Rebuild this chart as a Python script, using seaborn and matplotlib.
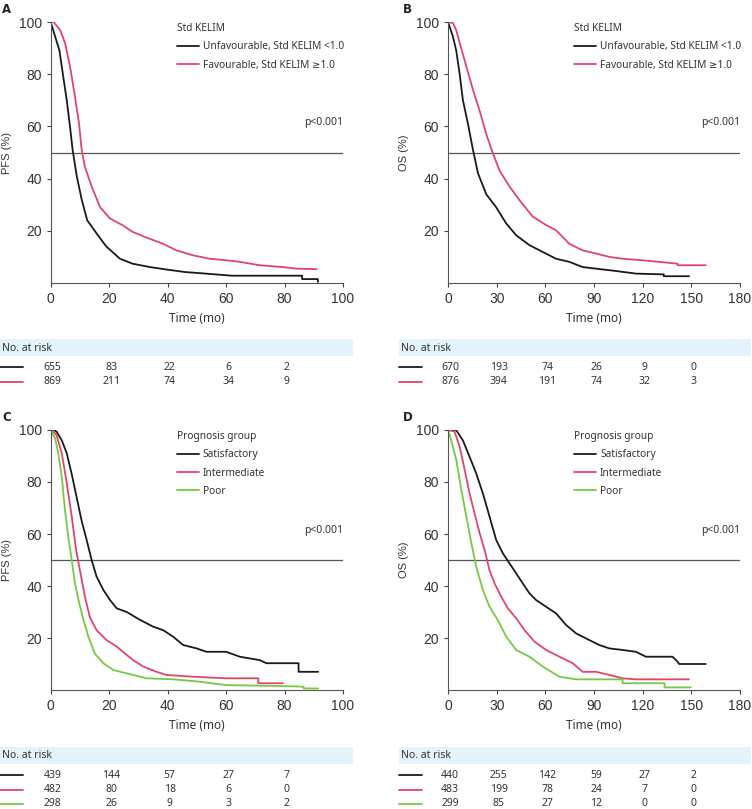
import numpy as np
import pandas as pd
import matplotlib
matplotlib.use("Agg")
import matplotlib.pyplot as plt
from matplotlib.patches import Rectangle
from matplotlib.transforms import blended_transform_factory
import seaborn as sns

# --- KM curves ---
# Panel A: PFS by Std KELIM
a_unfav_t = [0, 1.5, 3, 4.3, 5.5, 6.6, 7.5, 8.9, 10.6, 12.5, 15.7, 19, 23.7, 28, 34, 40, 46, 53, 62, 86, 86, 91.4, 91.4]
a_unfav_s = [100, 94.5, 89, 79, 70, 60, 51, 41, 32, 24, 19, 14, 9.3, 7.4, 6.1, 5.1, 4.2, 3.6, 2.8, 2.8, 1.5, 1.5, 0.4]
a_fav_t = [0, 1, 3.2, 4.9, 6.6, 8.3, 9.7, 10.6, 11.7, 14, 16.9, 20.3, 24.8, 28, 32.8, 38.5, 43, 48.7, 54.4, 60, 64.7, 71.5, 79.5, 84, 91]
a_fav_s = [100, 100, 97, 92, 83, 71.5, 61, 51, 44.5, 37, 29, 24.7, 22, 19.6, 17.4, 15, 12.5, 10.6, 9.3, 8.7, 8.1, 6.8, 6.1, 5.5, 5.3]

# Panel B: OS by Std KELIM
b_unfav_t = [0, 3, 5.1, 7.2, 9.2, 12.3, 15.4, 18.5, 23.6, 29.7, 35.9, 42, 50.2, 58.4, 66.6, 74.8, 83, 91.2, 103.5, 115.8, 133, 133, 148.6]
b_unfav_s = [100, 94.5, 89, 80, 70, 61, 51, 42, 34, 29, 22.8, 18.3, 14.5, 11.9, 9.3, 8.1, 6.1, 5.5, 4.6, 3.6, 3.3, 2.6, 2.6]
b_fav_t = [0, 3, 5, 7.2, 11.3, 15.4, 19.5, 23.6, 27.7, 31.8, 37.9, 44, 52.3, 60.5, 66.6, 74.8, 83, 91.2, 99.4, 107.6, 120, 130, 141.5, 141.5, 158.9]
b_fav_s = [100, 99.6, 97, 92, 83, 74, 66, 57, 49.7, 43, 37, 31.8, 25.4, 22.2, 20.2, 15, 12.5, 11.3, 10, 9.3, 8.7, 8.1, 7.4, 6.8, 6.8]

# Panel C: PFS by prognosis group
c_sat_t = [0, 1, 2, 3.8, 5.5, 7.2, 8.9, 10.6, 12.3, 14, 15.7, 18, 20.3, 22.6, 26, 30.5, 35, 38.5, 41.9, 45.3, 49.9, 53.3, 60, 64.7, 71.5, 73.8, 84.8, 84.8, 91.5]
c_sat_s = [100, 100, 99.4, 96, 91, 83, 74, 65, 57.7, 50, 43.6, 38.5, 34.6, 31.4, 30, 27, 24.4, 23, 20.5, 17.3, 16, 14.7, 14.7, 12.8, 11.5, 10.3, 10.3, 7, 7]
c_int_t = [0, 0.5, 2, 3.8, 5.5, 7.2, 8.7, 10, 11.7, 13.4, 15.7, 19.1, 22.6, 26, 28.2, 31.7, 36.2, 39.6, 48.7, 60, 71, 71, 79.5]
c_int_s = [100, 100, 98, 91, 79.5, 66.7, 53.8, 46, 36, 28, 23, 19.2, 16.7, 13.5, 11.5, 9, 7, 5.8, 5.1, 4.5, 4.5, 2.6, 2.6]
c_poor_t = [0, 1.5, 2.6, 3.8, 4.9, 6, 7.2, 8.3, 9.5, 11.2, 12.9, 15.1, 18, 21.4, 26, 32.8, 41.9, 51, 60, 79.5, 86.5, 86.5, 91.5]
c_poor_s = [100, 96.8, 91, 82, 69, 59, 50, 41, 34.6, 27, 20.5, 14, 10.3, 7.7, 6.4, 4.5, 4.1, 3.2, 1.9, 1.5, 1.3, 0.6, 0.6]

# Panel D: OS by prognosis group
d_sat_t = [0, 5, 9.2, 13.3, 17.4, 21.5, 25.6, 29.7, 33.8, 37.9, 42, 46.1, 50.2, 54.3, 60.5, 66.6, 72.8, 78.9, 87.1, 93.3, 99.4, 107.6, 115.8, 122, 138.4, 141.5, 142.5, 158.9]
d_sat_s = [100, 100, 96, 89.7, 83.3, 75.6, 66.7, 57.7, 52.6, 48.7, 44.9, 41, 37.2, 34.6, 32, 29.5, 25, 21.8, 19.2, 17.3, 16, 15.4, 14.7, 12.8, 12.8, 10.9, 10, 10]
d_int_t = [0, 4, 7.2, 10.3, 13.3, 16.4, 19.5, 22.6, 25.6, 28.7, 32.8, 36.9, 42, 47.2, 53.3, 60.5, 68.7, 76.9, 83, 91.2, 99.4, 107.6, 115.8, 148.6]
d_int_s = [100, 99.4, 93.6, 84.6, 75.6, 67.9, 60.3, 53.8, 46, 41, 35.9, 31.4, 27.6, 23, 18.6, 15.4, 12.8, 10.3, 7, 7, 5.8, 4.5, 4.1, 4.1]
d_poor_t = [0, 2, 5.1, 8.2, 11.3, 14.4, 17.4, 21.5, 25.6, 30.7, 35.9, 42, 50.2, 58.4, 68.7, 78.9, 107.6, 107.6, 133.5, 133.5, 149.7]
d_poor_s = [100, 96, 88.5, 77, 66.7, 56.4, 47.4, 38.5, 32, 26.9, 20.5, 15.4, 12.8, 9, 5.1, 4.1, 4.1, 2.6, 2.6, 1, 1]

# --- Numbers at risk ---
pfs_ticks = [0, 20, 40, 60, 80, 100]
os_ticks = [0, 30, 60, 90, 120, 150, 180]
a_risk_times = [0, 20, 40, 60, 80]
a_risk = [[655, 83, 22, 6, 2], [869, 211, 74, 34, 9]]
b_risk_times = [0, 30, 60, 90, 120, 150]
b_risk = [[670, 193, 74, 26, 9, 0], [876, 394, 191, 74, 32, 3]]
c_risk = [[439, 144, 57, 27, 7], [482, 80, 18, 6, 0], [298, 26, 9, 3, 2]]
d_risk = [[440, 255, 142, 59, 27, 2], [483, 199, 78, 24, 7, 0], [299, 85, 27, 12, 0, 0]]

kelim_labels = ["Unfavourable, Std KELIM <1.0", "Favourable, Std KELIM \u22651.0"]
prog_labels = ["Satisfactory", "Intermediate", "Poor"]

BLACK = "#1a1a1a"
RED = "#e0456a"
GREEN = "#78c843"
BAND = "#e3f2fb"
TXT = "#333333"
SANS = ["Noto Sans", "DejaVu Sans"]

sns.set_style("white")
plt.rcParams["font.family"] = ["Liberation Sans", "DejaVu Sans"]

W, H = 752, 809
fig = plt.figure(figsize=(W / 100, H / 100), dpi=100)


def fax(x0, y0, x1, y1):
    # pixel box -> figure axes
    return fig.add_axes([x0 / W, 1 - y1 / H, (x1 - x0) / W, (y1 - y0) / H])


def km_frame(curves, labels):
    rows = []
    for (t, s), lab in zip(curves, labels):
        rows.append(pd.DataFrame({"time": t, "surv": s, "group": lab}))
    return pd.concat(rows, ignore_index=True)


def draw_panel(box, curves, labels, colors, xmax, ticks, ylab, legend_title, letter, letter_x):
    ax = fax(*box)
    df = km_frame(curves, labels)
    sns.lineplot(data=df, x="time", y="surv", hue="group", palette=colors,
                 estimator=None, sort=False, lw=1.3, ax=ax)
    ax.axhline(50, color="#555555", lw=0.9, zorder=0)
    ax.set_xlim(0, xmax)
    ax.set_ylim(0, 100)
    ax.set_xticks(ticks)
    ax.set_yticks([20, 40, 60, 80, 100])
    ax.tick_params(axis="both", labelsize=10, colors="#444444", labelcolor=TXT,
                   length=3, width=0.8, direction="out", bottom=True, left=True)
    for side in ["top", "right"]:
        ax.spines[side].set_visible(False)
    for side in ["left", "bottom"]:
        ax.spines[side].set_color("#555555")
        ax.spines[side].set_linewidth(0.8)
    ax.set_xlabel("Time (mo)", fontsize=8.5, color=TXT, family=SANS, labelpad=4)
    ax.set_ylabel(ylab, fontsize=8, color=TXT, labelpad=5)
    ax.text(1.0, 61.5, "p<0.001", transform=ax.get_yaxis_transform(), ha="right",
            va="center", fontsize=7.5, color=TXT, family=SANS)
    handles, labs = ax.get_legend_handles_labels()
    leg = ax.legend(handles, labs, title=legend_title, loc="upper left",
                    bbox_to_anchor=(0.432, 0.996), frameon=False,
                    handlelength=2.2, handletextpad=0.35,
                    labelspacing=0.72, alignment="left", borderaxespad=0,
                    borderpad=0, prop={"family": SANS, "size": 7.3})
    leg.get_title().set_family(SANS)
    leg.get_title().set_fontsize(7.3)
    leg.get_title().set_color(TXT)
    for t in leg.get_texts():
        t.set_color(TXT)
    fig.text(letter_x / W, 1 - (box[1] - 19) / H, letter, fontsize=8.5,
             fontweight="bold", family="DejaVu Sans", va="top", color="#222222")
    return ax


def draw_risk(x_axes, y_band, band_x, risk, times, colors, xmax):
    # table axes shares the x scale of the panel above
    n = len(risk)
    x0, x1 = x_axes
    tab = fax(x0, y_band, x1, y_band + 17 + 14.5 * n)
    tab.set_xlim(0, xmax)
    tab.set_ylim(17 + 14.5 * n, 0)
    tab.axis("off")
    mix = blended_transform_factory(fig.transFigure, tab.transData)
    tab.add_patch(Rectangle((band_x[0], 0), band_x[1] - band_x[0], 17, transform=mix,
                            facecolor=BAND, edgecolor="none", clip_on=False))
    fig.text(band_x[0] + 2 / W, 1 - (y_band + 9) / H, "No. at risk",
             fontsize=7.5, color=TXT, family=SANS, va="center")
    for i, (row, col) in enumerate(zip(risk, colors)):
        y = 28 + 14.5 * i
        tab.plot([band_x[0], band_x[0] + 23 / W], [y, y], color=col, lw=1.3,
                 transform=mix, clip_on=False)
        for t, v in zip(times, row):
            tab.text(t + xmax * 0.007, y, str(v), ha="center", va="center",
                     fontsize=7.5, color=TXT, family=SANS)


draw_panel((50.7, 22, 343, 283), [(a_unfav_t, a_unfav_s), (a_fav_t, a_fav_s)],
           kelim_labels, [BLACK, RED], 100, pfs_ticks, "PFS (%)", "Std KELIM", "A", 2)
draw_panel((448, 22, 740, 283), [(b_unfav_t, b_unfav_s), (b_fav_t, b_fav_s)],
           kelim_labels, [BLACK, RED], 180, os_ticks, "OS (%)", "Std KELIM", "B", 403)
draw_panel((50.7, 430, 343, 690), [(c_sat_t, c_sat_s), (c_int_t, c_int_s), (c_poor_t, c_poor_s)],
           prog_labels, [BLACK, RED, GREEN], 100, pfs_ticks, "PFS (%)", "Prognosis group", "C", 2)
draw_panel((448, 430, 740, 690), [(d_sat_t, d_sat_s), (d_int_t, d_int_s), (d_poor_t, d_poor_s)],
           prog_labels, [BLACK, RED, GREEN], 180, os_ticks, "OS (%)", "Prognosis group", "D", 403)

draw_risk((50.7, 343), 339, (0 / W, 353 / W), a_risk, a_risk_times, [BLACK, RED], 100)
draw_risk((448, 740), 339, (399 / W, 751 / W), b_risk, b_risk_times, [BLACK, RED], 180)
draw_risk((50.7, 343), 747, (0 / W, 353 / W), c_risk, a_risk_times, [BLACK, RED, GREEN], 100)
draw_risk((448, 740), 747, (399 / W, 751 / W), d_risk, b_risk_times, [BLACK, RED, GREEN], 180)

fig.savefig("out.png", dpi=100)
